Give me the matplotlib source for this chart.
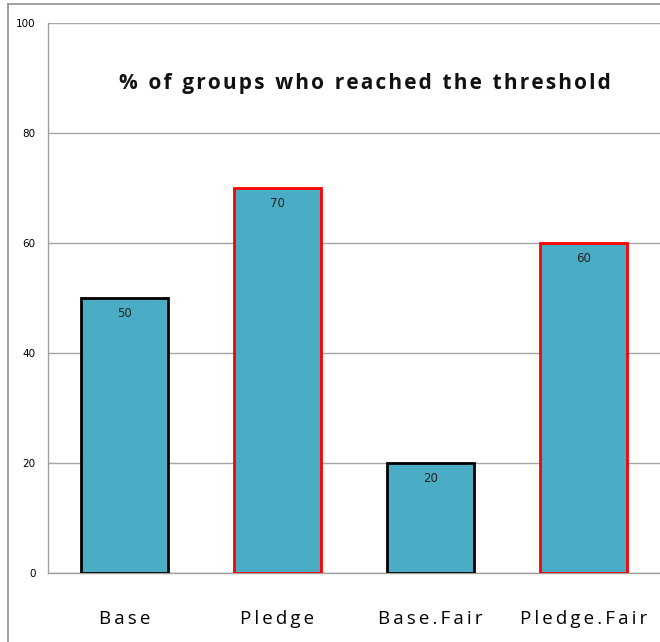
import matplotlib
matplotlib.use("Agg")
import matplotlib.pyplot as plt
from matplotlib.lines import Line2D

categories = ["Base", "Pledge", "Base.Fair", "Pledge.Fair"]
values = [50, 70, 20, 60]
edge_colors = ["#000000", "#FF0000", "#000000", "#FF0000"]
y_ticks = [0, 20, 40, 60, 80, 100]
title = "% of groups who reached the threshold"

TEXT_FAMILY = ["Open Sans", "DejaVu Sans"]


def spaced(s, gap="\u2009", word_gap=" "):
    """Open up letter spacing by putting a narrow space between letters of each word."""
    return word_gap.join(gap.join(word) for word in s.split(" "))


W, H = 660, 642
fig = plt.figure(figsize=(W / 100, H / 100), dpi=100)
ax = fig.add_axes([48 / W, (H - 573) / H, (660 - 48) / W, 550 / H])

x = list(range(len(categories)))
ax.bar(x, values, width=0.57, color="#4BACC6",
       edgecolor=edge_colors, linewidth=2.0, zorder=3)

for xi, v in zip(x, values):
    ax.annotate(str(v), (xi, v), xytext=(0, -11.5), textcoords="offset points",
                ha="center", va="center", fontsize=8.5, color="#222222",
                family="DejaVu Sans", zorder=4)

ax.set_xlim(-0.5, len(categories) - 0.5)
ax.set_ylim(0, 100)
ax.set_yticks(y_ticks)
ax.set_yticklabels([str(t) for t in y_ticks], fontsize=7.5, family="DejaVu Sans")
ax.set_xticks(x)
ax.set_xticklabels([spaced(c) for c in categories], fontsize=13.5, family=TEXT_FAMILY)
ax.tick_params(axis="y", length=0, pad=9)
ax.tick_params(axis="x", length=0, pad=27)

ax.yaxis.grid(True, color="#A6A6A6", linewidth=1.0, zorder=0)
ax.set_axisbelow(True)
for side in ("right", "top"):
    ax.spines[side].set_visible(False)
for side in ("left", "bottom"):
    ax.spines[side].set_color("#A0A0A0")
    ax.spines[side].set_linewidth(1.0)

ax.text(0.518, 0.89, spaced(title, gap="\u200a", word_gap="  "), transform=ax.transAxes,
        ha="center", va="center", fontsize=15, fontweight="bold",
        family=TEXT_FAMILY, color="#111111")

# outer chart frame
fig.add_artist(Line2D([7.5 / W, 7.5 / W], [0, 1 - 4 / H], transform=fig.transFigure,
                      color="#909090", linewidth=1.2))
fig.add_artist(Line2D([7.5 / W, 1], [1 - 4 / H, 1 - 4 / H], transform=fig.transFigure,
                      color="#909090", linewidth=1.2))

fig.savefig("out.png", dpi=100)
